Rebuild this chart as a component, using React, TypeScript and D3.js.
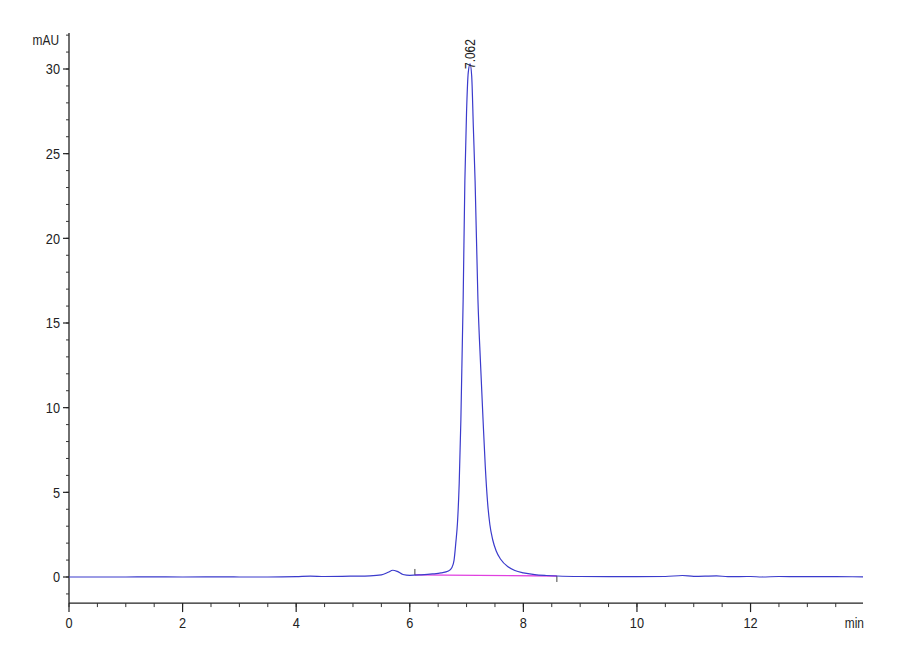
import React from "react";
import * as d3 from "d3";

const times: number[] = [
  0, 0.5, 1.0, 1.4, 2.0, 2.8, 3.0, 3.5, 4.0, 4.25, 4.5, 5.0, 5.3, 5.5, 5.62, 5.7, 5.78, 5.88, 6.0,
  6.2, 6.4, 6.55, 6.68, 6.74, 6.78, 6.81, 6.84, 6.87, 6.9, 6.94, 6.97, 7.0, 7.03, 7.062, 7.09,
  7.12, 7.15, 7.2, 7.25, 7.29, 7.33, 7.37, 7.41, 7.46, 7.52, 7.6, 7.73, 7.85, 8.0, 8.2, 8.4, 8.6, 9.0,
  9.5, 10.0, 10.5, 10.8, 11.0, 11.4, 11.6, 12.0, 12.2, 12.5, 13.0, 13.5, 13.98,
];
const absorbance: number[] = [
  0, 0, 0, 0.01, 0, 0.01, 0, 0, 0.02, 0.05, 0.03, 0.05, 0.07, 0.13, 0.28, 0.4, 0.33, 0.15, 0.1,
  0.13, 0.18, 0.24, 0.35, 0.55, 1.0, 2.0, 3.2, 5.5, 9.3, 16.4, 23.4, 27.5, 29.8, 30.3, 29.6,
  26.5, 23.4, 16.4, 12.3, 9.3, 6.5, 4.4, 3.1, 2.2, 1.55, 1.05, 0.6, 0.38, 0.24, 0.14, 0.09, 0.06, 0.03,
  0.02, 0.02, 0.03, 0.09, 0.04, 0.07, 0.02, 0.03, 0.0, 0.03, 0.02, 0.02, 0.01,
];
const xTickLabels: number[] = [0, 2, 4, 6, 8, 10, 12];
const yTickLabels: number[] = [0, 5, 10, 15, 20, 25, 30];
const peakTime = 7.062;
const peakHeight = 30.3;
const peakLabel = "7.062";
const integStart: [number, number] = [6.09, 0.12];
const integEnd: [number, number] = [8.59, 0.06];

const W = 900;
const H = 660;
const FONT = "'Liberation Sans', Arial, sans-serif";
const SX = 0.85;

function NText(props: {
  x: number;
  y: number;
  anchor: "start" | "middle" | "end";
  size: number;
  children: React.ReactNode;
  rotate?: number;
}) {
  const { x, y, anchor, size, children, rotate } = props;
  return (
    <text
      transform={`translate(${x},${y})${rotate ? ` rotate(${rotate})` : ""} scale(${SX},1)`}
      dy="0.35em"
      textAnchor={anchor}
      fontSize={size}
      fill="#222"
    >
      {children}
    </text>
  );
}

export default function App() {
  const x = d3.scaleLinear().domain([0, 13.98]).range([69, 863]);
  const y = d3.scaleLinear().domain([0, 30]).range([577, 69]);
  const yTop = 32.13;
  const yBot = -1.54;
  const data = times.map((t, i) => [t, absorbance[i]] as [number, number]);
  const line = d3
    .line<[number, number]>()
    .x((d) => x(d[0]))
    .y((d) => y(d[1]))
    .curve(d3.curveMonotoneX);

  const xMinor = d3.range(0, 14, 0.5);
  const yMinor = d3.range(-1, 33, 1);
  const axisY = y(yBot);

  return (
    <svg
      width={W}
      height={H}
      style={{ position: "absolute", left: 0, top: 0, background: "#fff" }}
      fontFamily={FONT}
    >
      <rect x={0} y={0} width={W} height={H} fill="#fff" />
      {/* y axis */}
      <line x1={x(0)} x2={x(0)} y1={y(yTop)} y2={axisY} stroke="#222" strokeWidth={1.3} />
      {yMinor.map((v) => (
        <line key={"ym" + v} x1={x(0) - 3} x2={x(0)} y1={y(v)} y2={y(v)} stroke="#333" strokeWidth={1} />
      ))}
      {yTickLabels.map((v) => (
        <g key={"yt" + v}>
          <line x1={x(0) - 6} x2={x(0)} y1={y(v)} y2={y(v)} stroke="#222" strokeWidth={1.2} />
          <NText x={x(0) - 9} y={y(v)} anchor="end" size={15}>
            {v}
          </NText>
        </g>
      ))}
      <NText x={59} y={40} anchor="end" size={14}>
        mAU
      </NText>
      {/* x axis */}
      <line x1={x(0)} x2={863} y1={axisY} y2={axisY} stroke="#222" strokeWidth={1.3} />
      {xMinor.map((v) => (
        <line key={"xm" + v} x1={x(v)} x2={x(v)} y1={axisY} y2={axisY + 4} stroke="#333" strokeWidth={1} />
      ))}
      {xTickLabels.map((v) => (
        <g key={"xt" + v}>
          <line x1={x(v)} x2={x(v)} y1={axisY} y2={axisY + 9} stroke="#222" strokeWidth={1.2} />
          <NText x={x(v)} y={623} anchor="middle" size={15}>
            {v}
          </NText>
        </g>
      ))}
      <NText x={864} y={623} anchor="end" size={14}>
        min
      </NText>
      {/* integration baseline */}
      <line
        x1={x(integStart[0])}
        y1={y(integStart[1])}
        x2={x(integEnd[0])}
        y2={y(integEnd[1])}
        stroke="#e040e0"
        strokeWidth={1.3}
      />
      <line x1={x(integStart[0])} x2={x(integStart[0])} y1={y(integStart[1]) - 6} y2={y(integStart[1])} stroke="#444" strokeWidth={1} />
      <line x1={x(integEnd[0])} x2={x(integEnd[0])} y1={y(integEnd[1])} y2={y(integEnd[1]) + 6} stroke="#444" strokeWidth={1} />
      {/* chromatogram */}
      <path d={line(data) || ""} fill="none" stroke="#3b3bcc" strokeWidth={1.2} />
      {/* peak label */}
      <NText x={x(peakTime)} y={y(peakHeight) + 5} anchor="start" size={14} rotate={-90}>
        {peakLabel}
      </NText>
    </svg>
  );
}
